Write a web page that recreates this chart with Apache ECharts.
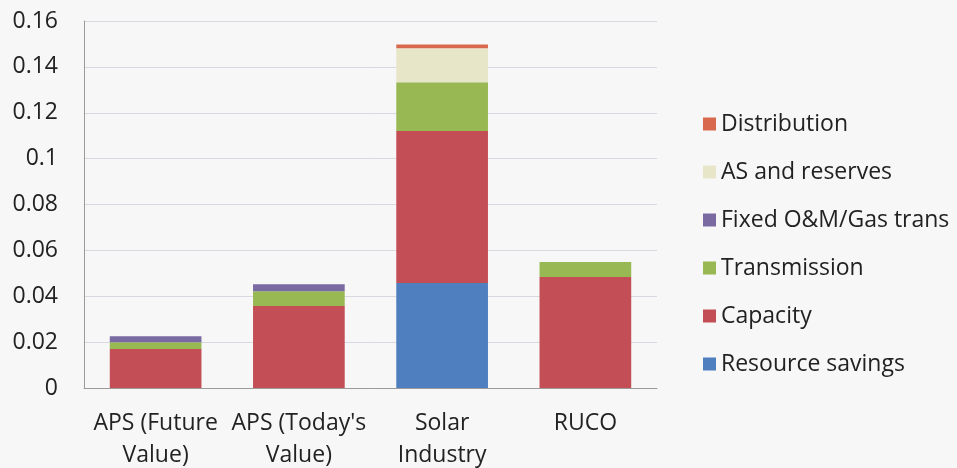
<!DOCTYPE html>
<html>
<head>
<meta charset="utf-8">
<script src="https://cdn.jsdelivr.net/npm/echarts@6/dist/echarts.min.js"></script>
<style>
  html, body { margin: 0; padding: 0; background: #f7f7f7; }
  #main { width: 957px; height: 468px; }
</style>
</head>
<body>
<div id="main"></div>
<script>
const categories = ["APS (Future\nValue)", "APS (Today's\nValue)", "Solar\nIndustry", "RUCO"];
const yTicks = [0, 0.02, 0.04, 0.06, 0.08, 0.1, 0.12, 0.14, 0.16];

// stacked from the bottom up
const resourceSavings = [0, 0, 0.0458, 0];
const capacity = [0.017, 0.0357, 0.0662, 0.0484];
const transmission = [0.003, 0.0065, 0.0213, 0.0065];
const fixedOM = [0.0026, 0.003, 0, 0];
const asReserves = [0, 0, 0.0148, 0];
const distribution = [0, 0, 0.0017, 0];

const seriesNames = ["Resource savings", "Capacity", "Transmission", "Fixed O&M/Gas trans", "AS and reserves", "Distribution"];
const seriesValues = [resourceSavings, capacity, transmission, fixedOM, asReserves, distribution];
const colors = ["#4f7fbf", "#c44e55", "#97b853", "#7a6aa2", "#e8e6c8", "#d9694e"];

const chart = echarts.init(document.getElementById("main"));

const font = "'Open Sans', sans-serif";

const option = {
  backgroundColor: "#f7f7f7",
  textStyle: { fontFamily: font },
  grid: { left: 84, right: 300, top: 21, bottom: 80, outerBoundsMode: "none" },
  legend: {
    orient: "vertical",
    left: 698,
    top: 106,
    data: seriesNames.slice().reverse(),
    icon: "rect",
    itemWidth: 13,
    itemHeight: 13,
    itemGap: 22,
    textStyle: { fontSize: 23, color: "#222", lineHeight: 26, fontFamily: font }
  },
  xAxis: {
    type: "category",
    data: categories,
    axisLine: { lineStyle: { color: "#9a9a9a" } },
    axisTick: { show: false },
    axisLabel: { fontSize: 23, color: "#222", lineHeight: 32, margin: 19, interval: 0, fontFamily: font }
  },
  yAxis: {
    type: "value",
    min: 0,
    max: 0.16,
    interval: 0.02,
    axisLine: { show: true, lineStyle: { color: "#9a9a9a" } },
    axisTick: { show: false },
    splitLine: { lineStyle: { color: "#d8d8e0" } },
    axisLabel: {
      fontSize: 23,
      color: "#222",
      margin: 26,
      fontFamily: font,
      formatter: function (v) {
        const t = yTicks.find(function (x) { return Math.abs(x - v) < 1e-9; });
        return t === undefined ? "" : String(t);
      }
    }
  },
  series: seriesNames.map(function (name, i) {
    return {
      name: name,
      type: "bar",
      stack: "total",
      barCategoryGap: "36%",
      data: seriesValues[i],
      itemStyle: { color: colors[i] }
    };
  })
};

chart.setOption(option);
</script>
</body>
</html>
